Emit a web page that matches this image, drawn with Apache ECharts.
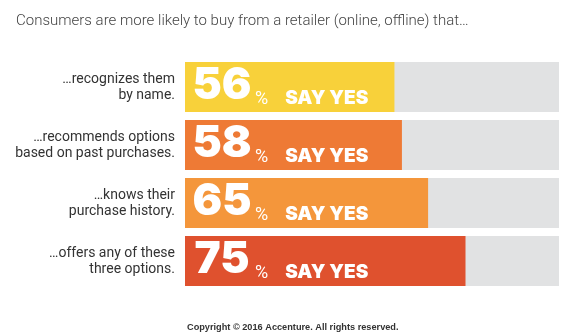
<!DOCTYPE html>
<html><head><meta charset="utf-8">
<script src="https://cdn.jsdelivr.net/npm/echarts@6/dist/echarts.min.js"></script>
<style>html,body{margin:0;padding:0;background:#fff}#c{width:580px;height:333px}</style>
</head><body><div id="c"></div>
<script>
const titleText = 'Consumers are more likely to buy from a retailer (online, offline) that…';
const footerText = 'Copyright © 2016 Accenture. All rights reserved.';
const categories = ['…recognizes them\nby name.', '…recommends options\nbased on past purchases.', '…knows their\npurchase history.', '…offers any of these\nthree options.'];
const values = [56, 58, 65, 75];
const suffix = 'SAY YES';
const palette = ['#F8D13A', '#EE7A35', '#F4963B', '#DF512E'];

const chart = echarts.init(document.getElementById('c'), null, {renderer: 'canvas'});
chart.setOption({
  animation: false,
  backgroundColor: '#fff',
  title: [{
    text: titleText, left: 11, top: 9,
    textStyle: {fontFamily: 'Roboto', fontSize: 15, fontWeight: 300, color: '#444'}
  }, {
    text: footerText, left: 182, top: 318,
    textStyle: {fontFamily: 'Liberation Sans', fontSize: 9.2, fontWeight: 'bold', color: '#333'}
  }],
  grid: {left: 185, right: 21, top: 58, bottom: 43, containLabel: false},
  xAxis: {type: 'value', min: 0, max: 100, show: false},
  yAxis: {
    type: 'category', data: categories, inverse: true,
    axisLine: {show: false}, axisTick: {show: false},
    axisLabel: {margin: 10, fontFamily: 'Roboto', fontSize: 14, lineHeight: 16, color: '#333', align: 'right'}
  },
  series: [{
    type: 'bar', data: values, barWidth: 50,
    showBackground: true,
    backgroundStyle: {color: '#E1E2E3'},
    itemStyle: {color: p => palette[p.dataIndex]},
    label: {
      show: true, position: 'insideLeft', distance: 6, offset: [0, -2],
      formatter: p => '{num|' + p.value + '}{pct|%}{say|' + suffix + '}',
      rich: {
        num: {fontFamily: 'Inter', fontWeight: 900, fontSize: 44, color: '#fff', verticalAlign: 'bottom', lineHeight: 46, width: 62, align: 'right'},
        pct: {fontFamily: 'Roboto', fontSize: 18, color: '#fff', verticalAlign: 'bottom', lineHeight: 34, padding: [0, 17, 0, 2]},
        say: {fontFamily: 'Inter', fontWeight: 900, fontSize: 19, color: '#fff', verticalAlign: 'bottom', lineHeight: 29}
      }
    }
  }]
});
</script></body></html>
